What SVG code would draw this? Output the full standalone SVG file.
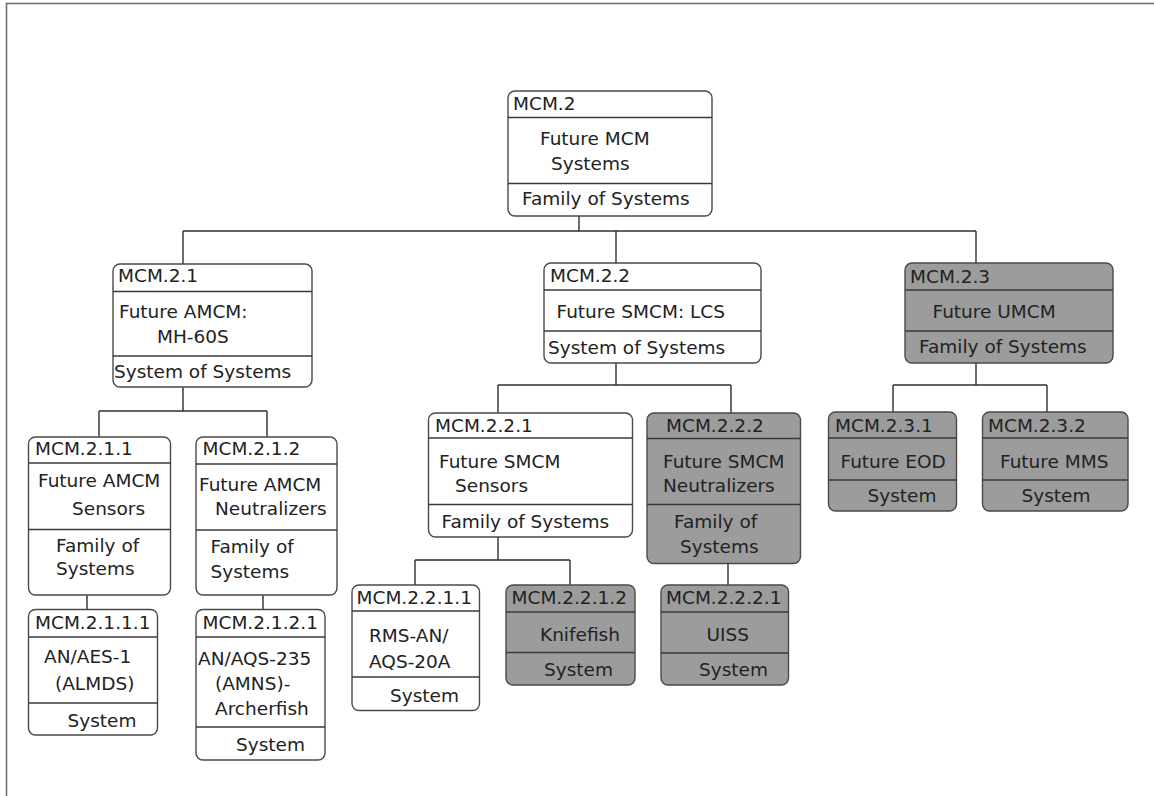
<svg xmlns="http://www.w3.org/2000/svg" width="1154" height="796" viewBox="0 0 1154 796">
<style>
.bg{fill:#ffffff}
.frame{stroke:#6e6e6e;stroke-width:1.6;fill:none}
.box{fill:#ffffff;stroke:#4a4a4a;stroke-width:1.4}
.gbox{fill:#9c9c9c;stroke:#4a4a4a;stroke-width:1.4}
.sep{stroke:#3a3a3a;stroke-width:1.4}
.conn line{stroke:#2e2e2e;stroke-width:1.4}
text{font-family:"DejaVu Sans","Verdana",sans-serif;font-size:18.5px;fill:#222222}
</style>
<rect class="bg" x="0" y="0" width="1154" height="796"/>
<path class="frame" d="M6.5,796 V3.5 H1154"/>

<g id="connectors" class="conn">
<line x1="579" y1="216" x2="579" y2="231"/>
<line x1="183" y1="231" x2="976" y2="231"/>
<line x1="183" y1="231" x2="183" y2="264"/>
<line x1="616" y1="231" x2="616" y2="263"/>
<line x1="976" y1="231" x2="976" y2="263"/>
<line x1="183" y1="387" x2="183" y2="411"/>
<line x1="99" y1="411" x2="267" y2="411"/>
<line x1="99" y1="411" x2="99" y2="437"/>
<line x1="267" y1="411" x2="267" y2="437"/>
<line x1="87" y1="595" x2="87" y2="609"/>
<line x1="263" y1="595" x2="263" y2="609"/>
<line x1="616" y1="363" x2="616" y2="385"/>
<line x1="498" y1="385" x2="731" y2="385"/>
<line x1="498" y1="385" x2="498" y2="413"/>
<line x1="731" y1="385" x2="731" y2="413"/>
<line x1="498" y1="537" x2="498" y2="560"/>
<line x1="415" y1="560" x2="570" y2="560"/>
<line x1="415" y1="560" x2="415" y2="585"/>
<line x1="570" y1="560" x2="570" y2="585"/>
<line x1="728" y1="563" x2="728" y2="585"/>
<line x1="976" y1="363" x2="976" y2="385"/>
<line x1="893" y1="385" x2="1047" y2="385"/>
<line x1="893" y1="385" x2="893" y2="412"/>
<line x1="1047" y1="385" x2="1047" y2="412"/>
</g>

<g id="MCM.2">
<rect class="box" x="508" y="91" width="204" height="125" rx="7"/>
<line class="sep" x1="508" y1="117.5" x2="712" y2="117.5"/>
<line class="sep" x1="508" y1="183.5" x2="712" y2="183.5"/>
<text x="513" y="110">MCM.2</text>
<text x="540" y="145">Future MCM</text>
<text x="551" y="170">Systems</text>
<text x="522" y="205">Family of Systems</text>
</g>

<g id="MCM.2.1">
<rect class="box" x="113" y="264" width="199" height="123" rx="7"/>
<line class="sep" x1="113" y1="291.5" x2="312" y2="291.5"/>
<line class="sep" x1="113" y1="356" x2="312" y2="356"/>
<text x="118" y="282">MCM.2.1</text>
<text x="119" y="318">Future AMCM:</text>
<text x="157" y="342.5">MH-60S</text>
<text x="114" y="378">System of Systems</text>
</g>

<g id="MCM.2.2">
<rect class="box" x="544" y="263" width="217" height="100" rx="7"/>
<line class="sep" x1="544" y1="290" x2="761" y2="290"/>
<line class="sep" x1="544" y1="331" x2="761" y2="331"/>
<text x="550" y="281.5">MCM.2.2</text>
<text x="556.5" y="318">Future SMCM: LCS</text>
<text x="548" y="354">System of Systems</text>
</g>

<g id="MCM.2.3">
<rect class="gbox" x="905" y="263" width="208" height="100" rx="7"/>
<line class="sep" x1="905" y1="290" x2="1113" y2="290"/>
<line class="sep" x1="905" y1="331" x2="1113" y2="331"/>
<text x="910" y="283">MCM.2.3</text>
<text x="932.5" y="318">Future UMCM</text>
<text x="919" y="353">Family of Systems</text>
</g>

<g id="MCM.2.1.1">
<rect class="box" x="28.5" y="437" width="142" height="158" rx="7"/>
<line class="sep" x1="28.5" y1="463" x2="170.5" y2="463"/>
<line class="sep" x1="28.5" y1="529.5" x2="170.5" y2="529.5"/>
<text x="35" y="455">MCM.2.1.1</text>
<text x="38" y="486.5">Future AMCM</text>
<text x="72" y="515">Sensors</text>
<text x="56" y="551.5">Family of</text>
<text x="56" y="575">Systems</text>
</g>

<g id="MCM.2.1.2">
<rect class="box" x="196" y="437" width="141" height="158" rx="7"/>
<line class="sep" x1="196" y1="464" x2="337" y2="464"/>
<line class="sep" x1="196" y1="530" x2="337" y2="530"/>
<text x="202.5" y="455">MCM.2.1.2</text>
<text x="199" y="491">Future AMCM</text>
<text x="215" y="515">Neutralizers</text>
<text x="210.5" y="553">Family of</text>
<text x="210.5" y="578">Systems</text>
</g>

<g id="MCM.2.1.1.1">
<rect class="box" x="28.5" y="609.5" width="129" height="125.5" rx="7"/>
<line class="sep" x1="28.5" y1="637" x2="157.5" y2="637"/>
<line class="sep" x1="28.5" y1="703" x2="157.5" y2="703"/>
<text x="35" y="629">MCM.2.1.1.1</text>
<text x="44" y="663">AN/AES-1</text>
<text x="55" y="690">(ALMDS)</text>
<text x="67.5" y="726.5">System</text>
</g>

<g id="MCM.2.1.2.1">
<rect class="box" x="196" y="609.5" width="129" height="150.5" rx="7"/>
<line class="sep" x1="196" y1="637" x2="325" y2="637"/>
<line class="sep" x1="196" y1="727" x2="325" y2="727"/>
<text x="202.5" y="629">MCM.2.1.2.1</text>
<text x="198" y="665">AN/AQS-235</text>
<text x="215" y="690">(AMNS)-</text>
<text x="215" y="715">Archerfish</text>
<text x="236" y="750.5">System</text>
</g>

<g id="MCM.2.2.1">
<rect class="box" x="428.5" y="413" width="204" height="124" rx="7"/>
<line class="sep" x1="428.5" y1="438" x2="632.5" y2="438"/>
<line class="sep" x1="428.5" y1="504.5" x2="632.5" y2="504.5"/>
<text x="435" y="431.5">MCM.2.2.1</text>
<text x="439" y="468">Future SMCM</text>
<text x="455" y="491.5">Sensors</text>
<text x="441.5" y="527.5">Family of Systems</text>
</g>

<g id="MCM.2.2.2">
<rect class="gbox" x="647" y="413" width="153.5" height="150.5" rx="7"/>
<line class="sep" x1="647" y1="438.5" x2="800.5" y2="438.5"/>
<line class="sep" x1="647" y1="504.5" x2="800.5" y2="504.5"/>
<text x="666" y="431.5">MCM.2.2.2</text>
<text x="663" y="468">Future SMCM</text>
<text x="663" y="491.5">Neutralizers</text>
<text x="674" y="528">Family of</text>
<text x="680" y="553">Systems</text>
</g>

<g id="MCM.2.2.1.1">
<rect class="box" x="352" y="585" width="127.5" height="125.5" rx="7"/>
<line class="sep" x1="352" y1="611" x2="479.5" y2="611"/>
<line class="sep" x1="352" y1="677" x2="479.5" y2="677"/>
<text x="356.5" y="604">MCM.2.2.1.1</text>
<text x="369" y="641.5">RMS-AN/</text>
<text x="369" y="668">AQS-20A</text>
<text x="390" y="701.5">System</text>
</g>

<g id="MCM.2.2.1.2">
<rect class="gbox" x="506" y="585" width="129" height="100" rx="7"/>
<line class="sep" x1="506" y1="612" x2="635" y2="612"/>
<line class="sep" x1="506" y1="652.5" x2="635" y2="652.5"/>
<text x="511.5" y="604">MCM.2.2.1.2</text>
<text x="540" y="640.5">Knifefish</text>
<text x="544" y="676">System</text>
</g>

<g id="MCM.2.2.2.1">
<rect class="gbox" x="661" y="585" width="127.5" height="100" rx="7"/>
<line class="sep" x1="661" y1="612" x2="788.5" y2="612"/>
<line class="sep" x1="661" y1="653" x2="788.5" y2="653"/>
<text x="666" y="604">MCM.2.2.2.1</text>
<text x="706.5" y="640.5">UISS</text>
<text x="699" y="676">System</text>
</g>

<g id="MCM.2.3.1">
<rect class="gbox" x="828.5" y="412" width="128" height="99" rx="7"/>
<line class="sep" x1="828.5" y1="438" x2="956.5" y2="438"/>
<line class="sep" x1="828.5" y1="480" x2="956.5" y2="480"/>
<text x="835" y="431.5">MCM.2.3.1</text>
<text x="840.5" y="468">Future EOD</text>
<text x="867.5" y="501.5">System</text>
</g>

<g id="MCM.2.3.2">
<rect class="gbox" x="982.5" y="412" width="145.5" height="99" rx="7"/>
<line class="sep" x1="982.5" y1="438" x2="1128" y2="438"/>
<line class="sep" x1="982.5" y1="480" x2="1128" y2="480"/>
<text x="988" y="431.5">MCM.2.3.2</text>
<text x="1000" y="468">Future MMS</text>
<text x="1021.5" y="501.5">System</text>
</g>
</svg>
